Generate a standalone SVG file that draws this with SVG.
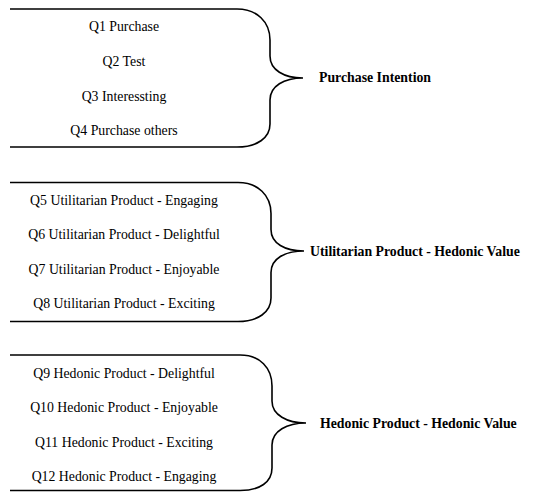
<svg xmlns="http://www.w3.org/2000/svg" width="533" height="492" viewBox="0 0 533 492">
<style>
.item{font-family:"Liberation Serif","Times New Roman",serif;font-size:13.8px;fill:#000;text-anchor:middle}
.label{font-family:"Liberation Serif","Times New Roman",serif;font-size:13.8px;font-weight:bold;fill:#000}
.brace{fill:none;stroke:#000;stroke-width:1.6}
</style>
<rect width="533" height="492" fill="#fff"/>
<g id="connectors">
<path class="brace" d="M10,9 H237 C257,9 270,22 270,40 V56 C270,70 284,78 303,78 C284,78 270,86 270,100 V124 C270,138 257,147 237,147 H10"/>
<path class="brace" d="M10,182.5 H238 C258,182.5 271,195.5 271,213.5 V229.5 C271,243.5 285,251 304,251 C285,251 271,258.5 271,272.5 V298 C271,312 258,321.5 238,321.5 H10"/>
<path class="brace" d="M10,355 H240 C260,355 272,368 272,386 V401 C272,415 287,423 306,423 C287,423 272,431 272,445 V468 C272,482 260,490.5 240,490.5 H10"/>
</g>
<g id="group1">
<text class="item" x="124" y="30.5">Q1 Purchase</text>
<text class="item" x="124" y="65.5">Q2 Test</text>
<text class="item" x="124" y="100.5">Q3 Interessting</text>
<text class="item" x="124" y="135">Q4 Purchase others</text>
</g>
<g id="purchase-intention">
<text class="label" x="319" y="82">Purchase Intention</text>
</g>
<g id="group2">
<text class="item" x="124" y="204.5">Q5 Utilitarian Product - Engaging</text>
<text class="item" x="124" y="239">Q6 Utilitarian Product - Delightful</text>
<text class="item" x="124" y="273.5">Q7 Utilitarian Product - Enjoyable</text>
<text class="item" x="124" y="308">Q8 Utilitarian Product - Exciting</text>
</g>
<g id="utilitarian-hedonic">
<text class="label" x="310" y="255.5">Utilitarian Product - Hedonic Value</text>
</g>
<g id="group3">
<text class="item" x="124" y="377.5">Q9 Hedonic Product - Delightful</text>
<text class="item" x="124" y="412">Q10 Hedonic Product - Enjoyable</text>
<text class="item" x="124" y="446.5">Q11 Hedonic Product - Exciting</text>
<text class="item" x="124" y="481">Q12 Hedonic Product - Engaging</text>
</g>
<g id="hedonic-hedonic">
<text class="label" x="320" y="428">Hedonic Product - Hedonic Value</text>
</g>
</svg>
